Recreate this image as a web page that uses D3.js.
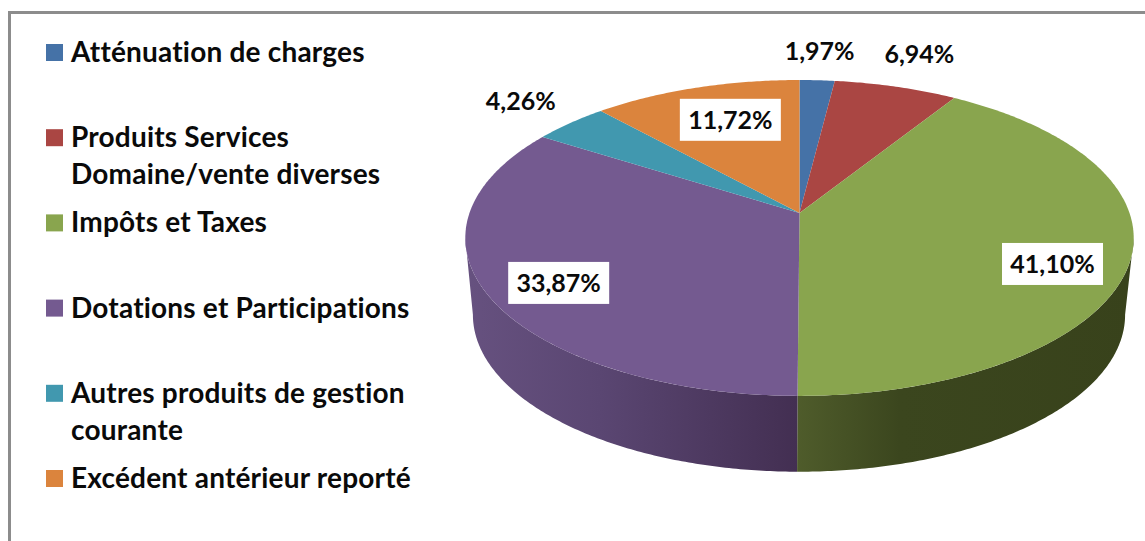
<!DOCTYPE html>
<html>
<head>
<meta charset="utf-8">
<script src="https://cdn.jsdelivr.net/npm/d3@7"></script>
<style>
  html, body { margin: 0; padding: 0; background: #fff; }
  svg { display: block; }
  text { font-family: Lato, "Open Sans", sans-serif; font-weight: 700; fill: #0a0a0a; font-variant-ligatures: none; }
</style>
</head>
<body>
<div id="chart"></div>
<script>
// Data
const categories = [
    ["Atténuation de charges"],
    ["Produits Services", "Domaine/vente diverses"],
    ["Impôts et Taxes"],
    ["Dotations et Participations"],
    ["Autres produits de gestion", "courante"],
    ["Excédent antérieur reporté"]
];
const values = [1.97, 6.94, 41.10, 33.87, 4.26, 11.72];
const valueLabels = ["1,97%", "6,94%", "41,10%", "33,87%", "4,26%", "11,72%"];
const colors = ["#4572a7", "#aa4643", "#89a54e", "#745a90", "#4198af", "#db843d"];

const width = 1145, height = 541;

const svg = d3.select("#chart").append("svg")
    .attr("width", width)
    .attr("height", height);

// Frame, runs off the right and bottom of the crop
svg.append("path")
    .attr("d", `M${width + 5},12.5H9.5V${height + 5}`)
    .attr("fill", "none")
    .attr("stroke", "#8c8c8c")
    .attr("stroke-width", 3);

// The pie has some perspective, so the disc centre is above the ellipse centre
const k = 0.158;
const top3d = {cx: 799.5, cy: 213, a: 330, b: 154};
const bottom3d = {cx: 799, cy: 290, a: 322, b: 153};

function project(angle, p, r = 1) {
    const u = Math.sin(angle) * r, v = Math.cos(angle) * r;
    const w = 1 + k * v;
    return [p.cx + p.a * u / w, p.cy - p.b * v / w];
}

function rim(a0, a1, p) {
    const n = Math.max(2, Math.ceil(Math.abs(a1 - a0) / 0.01));
    return d3.range(n + 1).map(i => project(a0 + (a1 - a0) * i / n, p));
}

const line = d3.line();
const pie = d3.pie().sort(null).value(d => d);
const slices = pie(values);

const defs = svg.append("defs");
const wallStops = [
    [[470, "#66517f"], [600, "#5a4672"], [797, "#432f52"]],
    [[797, "#4f5c2b"], [900, "#3b461e"], [1133, "#38421b"]]
];
wallStops.forEach((stops, i) => {
    const g = defs.append("linearGradient")
        .attr("id", "wall" + i)
        .attr("gradientUnits", "userSpaceOnUse")
        .attr("x1", stops[0][0]).attr("x2", stops[stops.length - 1][0])
        .attr("y1", 0).attr("y2", 0);
    stops.forEach(s => {
        g.append("stop")
            .attr("offset", (s[0] - stops[0][0]) / (stops[stops.length - 1][0] - stops[0][0]))
            .attr("stop-color", s[1]);
    });
});

// Side wall, only the front part of the disc shows
const frontFrom = Math.PI - Math.acos(k), frontTo = Math.PI + Math.acos(k);
slices.forEach((d, i) => {
    const a0 = Math.max(d.startAngle, frontFrom), a1 = Math.min(d.endAngle, frontTo);
    if (a1 <= a0) return;
    const pts = rim(a0, a1, top3d).concat(rim(a1, a0, bottom3d));
    svg.append("path")
        .attr("d", line(pts) + "Z")
        .attr("fill", i === 2 ? "url(#wall1)" : "url(#wall0)");
});

// Top face
svg.selectAll(".slice")
    .data(slices)
  .enter().append("path")
    .attr("class", "slice")
    .attr("d", d => line([[top3d.cx, top3d.cy]].concat(rim(d.startAngle, d.endAngle, top3d))) + "Z")
    .attr("fill", (d, i) => colors[i]);

// Data labels, placed relative to the rim point of their slice
const labelOffsets = [[2.5, -29], [23.5, -32], [-78.5, 6], [72.5, -10], [-49.5, -22], [34.5, 32]];
const labelBoxed = [false, false, true, true, false, true];
const labelFont = 25;

slices.forEach((d, i) => {
    const mid = (d.startAngle + d.endAngle) / 2;
    const p = project(mid, top3d);
    const x = p[0] + labelOffsets[i][0], y = p[1] + labelOffsets[i][1];
    if (labelBoxed[i]) {
        svg.append("rect")
            .attr("x", x - 50.5).attr("y", y - 21)
            .attr("width", 101).attr("height", 42)
            .attr("fill", "#fff");
    }
    svg.append("text")
        .attr("class", "value-label")
        .attr("x", x).attr("y", y)
        .attr("dy", "0.35em")
        .attr("text-anchor", "middle")
        .attr("font-size", labelFont)
        .text(valueLabels[i]);
});

// Legend
const legendY = d3.scalePoint()
    .domain(d3.range(categories.length))
    .range([52.5, 478.5]);

const legend = svg.selectAll(".legend")
    .data(categories)
  .enter().append("g")
    .attr("class", "legend")
    .attr("transform", (d, i) => `translate(46,${legendY(i)})`);

legend.append("rect")
    .attr("y", -8.5)
    .attr("width", 17)
    .attr("height", 17)
    .attr("fill", (d, i) => colors[i]);

legend.each(function(lines) {
    const t = d3.select(this);
    lines.forEach((s, j) => {
        t.append("text")
            .attr("x", 25)
            .attr("y", 9.5 + j * 37)
            .attr("font-size", 28)
            .attr("letter-spacing", 0.2)
            .text(s);
    });
});
</script>
</body>
</html>
